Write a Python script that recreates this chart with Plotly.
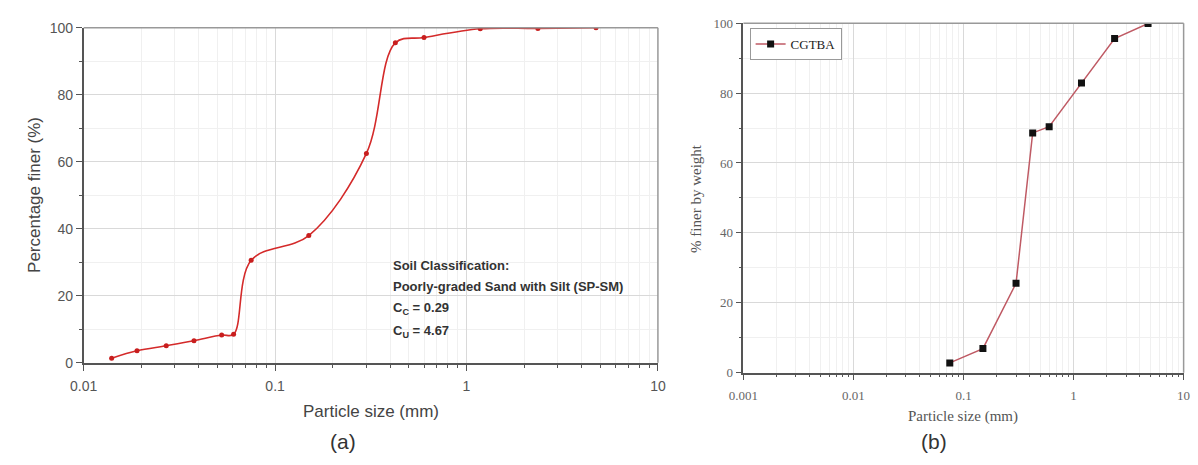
import plotly.graph_objects as go

# ---- data ----
size_a = [0.014, 0.019, 0.027, 0.0377, 0.0526, 0.0607, 0.075, 0.15, 0.3, 0.425, 0.6, 1.18, 2.36, 4.75]
finer_a = [1.4, 3.6, 5.1, 6.6, 8.3, 8.5, 30.6, 38.0, 62.5, 95.5, 97.1, 99.7, 99.8, 100.0]

size_b = [0.075, 0.15, 0.3, 0.425, 0.6, 1.18, 2.36, 4.75]
finer_b = [2.8, 6.9, 25.6, 68.6, 70.4, 82.9, 95.6, 99.9]

xticks_a = [0.01, 0.1, 1, 10]
xticklabels_a = ["0.01", "0.1", "1", "10"]
xticks_b = [0.001, 0.01, 0.1, 1, 10]
xticklabels_b = ["0.001", "0.01", "0.1", "1", "10"]
yticks = [0, 20, 40, 60, 80, 100]

W, H = 1198, 465
minor_log = [k * 10.0 ** e for e in range(-3, 1) for k in range(2, 10)]

def px(x):
    return x / W

def py(y):
    return 1 - y / H

SANS = "Liberation Sans, Arial, sans-serif"
SERIF = "Liberation Serif, Times New Roman, serif"

fig = go.Figure()

fig.add_trace(go.Scatter(
    x=size_a, y=finer_a, mode="lines+markers", xaxis="x", yaxis="y",
    line=dict(color="#d42a2a", width=1.6, shape="spline", smoothing=1.0),
    marker=dict(color="#c81e1e", size=5, symbol="circle"),
    showlegend=False,
))

fig.add_trace(go.Scatter(
    x=size_b, y=finer_b, mode="lines+markers", xaxis="x2", yaxis="y2",
    name="CGTBA",
    line=dict(color="#bf5a64", width=1.5),
    marker=dict(color="#111111", size=7, symbol="square"),
    showlegend=True,
))

common_x = dict(
    type="log", showgrid=True, gridcolor="#d9d9d9", gridwidth=1,
    showline=True, linecolor="#555", linewidth=1.5,
    ticks="outside", ticklen=6, tickcolor="#555", zeroline=False,
    ticklabelstandoff=4,
    minor=dict(tickmode="array", tickvals=minor_log, ticks="outside", ticklen=3,
               tickcolor="#555", showgrid=True, gridcolor="#f0f0f0", gridwidth=1),
)
common_y = dict(
    range=[0, 100], tickvals=yticks, showgrid=True, gridcolor="#d9d9d9", gridwidth=1,
    showline=True, linecolor="#555", linewidth=1.5,
    ticks="outside", ticklen=6, tickcolor="#555", zeroline=False,
    minor=dict(dtick=10, ticks="outside", ticklen=3, tickcolor="#555",
               showgrid=True, gridcolor="#f0f0f0", gridwidth=1),
)

fig.update_layout(
    width=W, height=H,
    margin=dict(l=0, r=0, t=0, b=0),
    paper_bgcolor="white", plot_bgcolor="white",
    xaxis=dict(common_x, domain=[px(70), px(655.5)], range=[-2, 1],
               tickvals=xticks_a, ticktext=xticklabels_a, anchor="y",
               tickfont=dict(family=SANS, size=14, color="#555")),
    yaxis=dict(common_y, domain=[py(367.5), py(20.5)], anchor="x",
               tickfont=dict(family=SANS, size=14, color="#555")),
    xaxis2=dict(common_x, domain=[px(742.7), px(1191.5)], range=[-3, 1],
                tickvals=xticks_b, ticktext=xticklabels_b, anchor="y2",
                tickfont=dict(family=SERIF, size=13, color="#666")),
    yaxis2=dict(common_y, domain=[py(377.7), py(15.7)], anchor="x2",
                tickfont=dict(family=SERIF, size=13, color="#666")),
    legend=dict(x=px(749), y=py(20.7), xanchor="left", yanchor="top",
                bgcolor="white", bordercolor="#999", borderwidth=1,
                font=dict(family=SERIF, size=13, color="#222"),
                itemwidth=30, tracegroupgap=0),
)

# top/right frame lines
for xr, yr in (("x domain", "y domain"), ("x2 domain", "y2 domain")):
    fig.add_shape(type="line", xref=xr, yref=yr, x0=0, x1=1, y0=1, y1=1,
                  line=dict(color="#999", width=1.5))
    fig.add_shape(type="line", xref=xr, yref=yr, x0=1, x1=1, y0=0, y1=1,
                  line=dict(color="#999", width=1.5))

def label(text, x, y, size, family, color, angle=0, xanchor="center"):
    return dict(text=text, x=px(x), y=py(y), xref="paper", yref="paper",
                xanchor=xanchor, yanchor="middle", textangle=angle,
                showarrow=False, font=dict(family=family, size=size, color=color))

ann = [
    label("Particle size (mm)", 363, 418, 17, SANS, "#444"),
    label("Percentage finer (%)", 20, 194, 17, SANS, "#444", angle=-90),
    label("(a)", 334, 449, 21, SANS, "#333"),
    label("Particle size (mm)", 967, 423, 15, SERIF, "#555"),
    label("% finer by weight", 695, 197, 15, SERIF, "#555", angle=-90),
    label("(b)", 937, 449, 21, SANS, "#333"),
]
# Soil classification text
lines = [
    ("<b>Soil Classification:</b>", 266.7),
    ("<b>Poorly-graded Sand with Silt (SP-SM)</b>", 288.3),
    ("<b>C<sub>C</sub> = 0.29</b>", 311),
    ("<b>C<sub>U</sub> = 4.67</b>", 335),
]
for t, yy in lines:
    ann.append(label(t, 383, yy, 13, SANS, "#333", xanchor="left"))
fig.update_layout(annotations=ann)

fig.write_html("out.html")
